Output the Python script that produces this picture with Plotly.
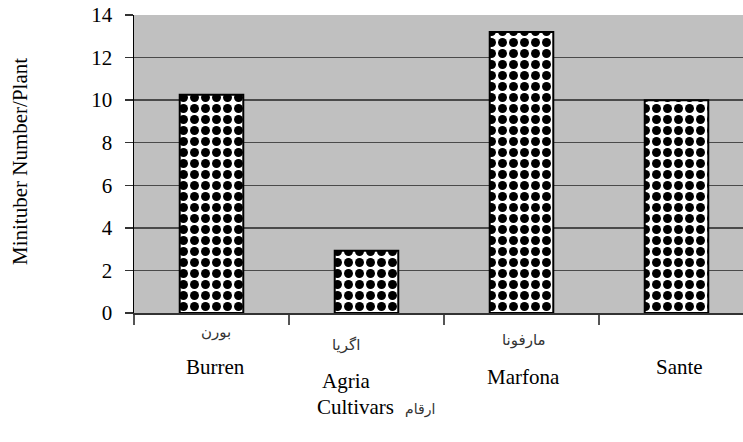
import plotly.graph_objects as go

# ---- data ----
cultivars_en = ["Burren", "Agria", "Marfona", "Sante"]
cultivars_fa = ["بورن", "اگریا", "مارفونا", ""]
minitubers = [10.25, 2.93, 13.2, 10.0]
y_ticks = [0, 2, 4, 6, 8, 10, 12, 14]
x_title_en = "Cultivars"
x_title_fa = "ارقام"
y_title = "Minituber Number/Plant"

# ---- label layout offsets (pixels) ----
label_xshift = [4, -21, 2, 3]
en_yshift = [-54, -68, -64, -54]
fa_yshift = [-19, -32, -27, 0]

SERIF = "Liberation Serif"
ARABIC = "DejaVu Sans"

fig = go.Figure()
fig.add_trace(go.Bar(
    x=cultivars_en,
    y=minitubers,
    width=0.41,
    marker=dict(
        color="white",
        line=dict(color="black", width=2),
        pattern=dict(shape=".", fgcolor="black", bgcolor="white",
                     size=11, solidity=0.52, fillmode="replace"),
    ),
    hoverinfo="skip",
))

annotations = []
for i, (en, fa) in enumerate(zip(cultivars_en, cultivars_fa)):
    annotations.append(dict(
        x=en, y=0, xref="x", yref="y", text=en, showarrow=False,
        xshift=label_xshift[i], yshift=en_yshift[i],
        font=dict(family=SERIF, size=21, color="black"),
        xanchor="center", yanchor="middle"))
    if fa:
        annotations.append(dict(
            x=en, y=0, xref="x", yref="y", text=fa, showarrow=False,
            xshift=label_xshift[i], yshift=fa_yshift[i],
            font=dict(family=ARABIC, size=15, color="#333333"),
            xanchor="center", yanchor="middle"))

annotations.append(dict(
    x=355, y=407, xref="paper", yref="paper", text=x_title_en, showarrow=False,
    font=dict(family=SERIF, size=21, color="black")))
annotations.append(dict(
    x=420, y=409, xref="paper", yref="paper", text=x_title_fa,
    showarrow=False,
    font=dict(family=ARABIC, size=14, color="#333333")))
annotations.append(dict(
    x=20, y=162, xref="paper", yref="paper", text=y_title, showarrow=False,
    textangle=-90,
    font=dict(family=SERIF, size=21, color="black")))

# convert paper pixel coords for the last three annotations
W, H = 743, 442
ML, MR, MT, MB = 134, 0, 15, 129
PW, PH = W - ML - MR, H - MT - MB
for a in annotations[-3:]:
    a["x"] = (a["x"] - ML) / PW
    a["y"] = (H - MB - a["y"]) / PH
    a["xanchor"] = "center"
    a["yanchor"] = "middle"

cat_px = 155.0
fig.update_layout(
    width=W, height=H,
    margin=dict(l=ML, r=MR, t=MT, b=MB, pad=0),
    paper_bgcolor="white",
    plot_bgcolor="#C0C0C0",
    showlegend=False,
    annotations=annotations,
    xaxis=dict(
        type="category",
        categoryorder="array",
        categoryarray=cultivars_en,
        range=[-0.5, -0.5 + PW / cat_px],
        showticklabels=False,
        tickson="boundaries",
        ticks="outside", ticklen=10, tickwidth=1.5, tickcolor="#555555",
        showgrid=False, zeroline=False,
        showline=True, linecolor="#333333", linewidth=2,
        fixedrange=True,
    ),
    yaxis=dict(
        range=[0, 14],
        tickmode="array",
        tickvals=y_ticks,
        ticktext=[str(v) for v in y_ticks],
        ticks="outside", ticklen=8, tickwidth=1.5, tickcolor="#333333",
        tickfont=dict(family=SERIF, size=21, color="black"),
        ticklabelstandoff=8,
        showgrid=True, gridcolor="#4a4a4a", gridwidth=1.5,
        zeroline=False,
        showline=True, linecolor="black", linewidth=1.5,
        fixedrange=True,
    ),
)

fig.write_html(
    "out.html",
    config={"displayModeBar": False, "staticPlot": True},
    post_script="document.body.style.margin='0';document.body.style.overflow='hidden';",
)
